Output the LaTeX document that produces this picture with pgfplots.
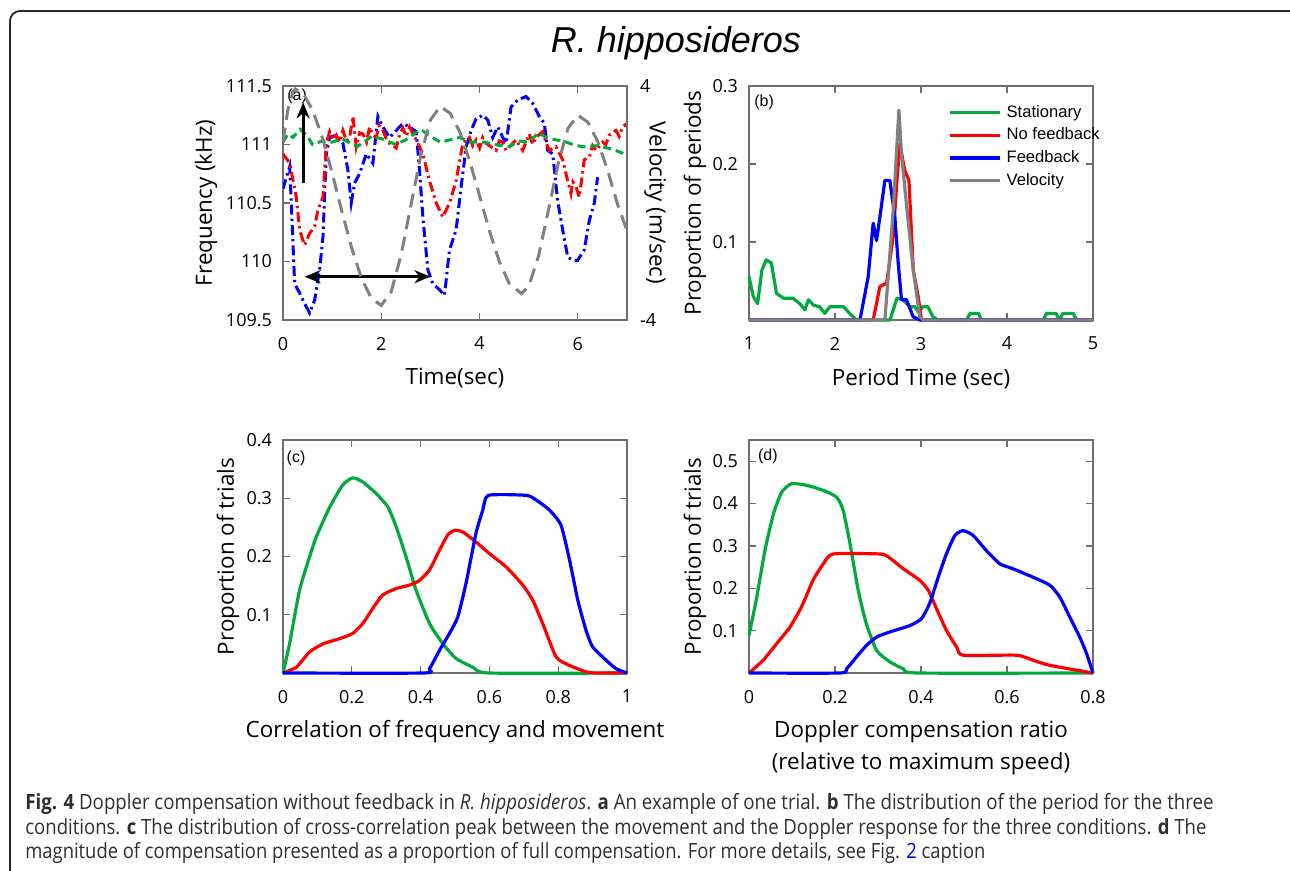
\documentclass[border=0pt]{standalone}
\usepackage{fontspec}
\setmainfont{Open Sans}
\newfontfamily\titlefont{Liberation Sans}
\usepackage{graphicx}
\usepackage{pgfplots}
\pgfplotsset{compat=1.18}
\usetikzlibrary{arrows.meta}
\definecolor{mgreen}{RGB}{0,170,60}
\definecolor{mred}{RGB}{255,0,0}
\definecolor{mblue}{RGB}{0,0,255}
\definecolor{mgray}{RGB}{128,128,128}
\definecolor{axgray}{RGB}{110,110,110}
\pgfplotsset{
  base/.style={
    scale only axis, width=172pt, height=117pt,
    axis line style={axgray, line width=0.6pt},
    tick style={axgray, line width=0.6pt},
    tick align=inside, major tick length=3.5pt,
    /pgf/number format/assume math mode=true,
    ticklabel style={font=\fontsize{9}{10.8}\selectfont},
    xticklabel style={yshift=-5pt},
    label style={font=\fontsize{11.2}{14}\selectfont},
    no markers,
  },
}
\tikzset{plab/.style={font={\titlefont\fontsize{8}{9}\selectfont}, anchor=center}}
\begin{document}
\begin{tikzpicture}
\useasboundingbox (0,0) rectangle (645pt,-435.5pt);
\begin{scope}
\clip (0,0) rectangle (645pt,-435.5pt);
\draw[line width=0.9pt, black!85, rounded corners=5pt] (5pt,-5.5pt) rectangle (652pt,-470pt);
\end{scope}

\node[anchor=base, font={\titlefont\itshape\fontsize{18}{20}\selectfont}] at (338pt,-26.5pt) {R. hipposideros};

% ---------------- panel (a)
\begin{axis}[base, at={(141.5pt,-160pt)}, anchor=south west,
  xmin=0, xmax=7, ymin=109.5, ymax=111.5,
  xtick={0,2,4,6}, ytick={109.5,110,110.5,111,111.5},
  ytick pos=left,
  yticklabel style={xshift=-2pt},
  xlabel={Time(sec)}, ylabel={Frequency (kHz)},
  xlabel style={at={(axis description cs:0.5,-0.25)}, anchor=center},
  ylabel style={at={(axis description cs:-0.224,0.5)}, anchor=center},
]
\addplot[mblue, line width=1.5pt, dash pattern=on 5pt off 2pt on 1.2pt off 2pt] coordinates {
(0,110.62) (0.068,110.72) (0.136,110.81) (0.169,110.50) (0.237,109.81) (0.339,109.73)
(0.440,109.64) (0.542,109.56) (0.644,109.67) (0.745,109.93) (0.813,110.21) (0.881,110.92)
(0.949,111.06) (1.084,111.08) (1.220,111.01) (1.321,110.78) (1.389,110.50) (1.457,110.67)
(1.558,110.75) (1.694,110.92) (1.829,110.84) (1.931,111.24) (2.033,111.15) (2.168,111.06)
(2.304,111.12) (2.439,111.18) (2.575,111.15) (2.710,111.11) (2.778,110.78) (2.846,110.38)
(2.947,109.93) (3.049,109.81) (3.184,109.76) (3.286,109.71) (3.388,110.10) (3.523,110.27)
(3.625,110.64) (3.726,110.98) (3.828,111.12) (3.930,111.22) (4.065,111.25) (4.167,111.21)
(4.268,111.06) (4.370,111.15) (4.472,111.06) (4.539,111.01) (4.641,111.32) (4.776,111.38)
(4.946,111.41) (5.081,111.35) (5.217,111.24) (5.318,111.18) (5.386,110.95) (5.488,110.92)
(5.589,110.52) (5.691,110.27) (5.793,110.04) (5.894,110.01) (5.996,110.01) (6.131,110.10)
(6.233,110.35) (6.335,110.50) (6.402,110.72)
};
\addplot[mred, line width=1.5pt, dash pattern=on 5pt off 2pt on 1.2pt off 2pt] coordinates {
(0,110.92) (0.136,110.84) (0.271,110.55) (0.339,110.27) (0.407,110.18) (0.440,110.14)
(0.542,110.24) (0.644,110.30) (0.711,110.44) (0.813,110.55) (0.881,111.01) (0.949,111.11)
(1.02,111.04) (1.084,111.08) (1.15,111.02) (1.220,111.12) (1.29,111.03) (1.355,111.06) (1.423,111.24) (1.491,110.98)
(1.56,111.10) (1.626,111.09) (1.70,111.02) (1.762,111.15) (1.83,111.08) (1.897,111.06) (1.96,111.16) (2.033,111.12)
(2.10,111.05) (2.168,111.01) (2.304,110.97) (2.37,111.08) (2.439,111.14) (2.51,111.07) (2.575,111.15)
(2.710,111.04) (2.846,110.92) (2.981,110.69) (3.117,110.50) (3.252,110.38) (3.388,110.50)
(3.523,110.69) (3.659,111.01) (3.794,111.06) (3.86,110.99) (3.930,111.04) (4.00,110.97) (4.065,111.06)
(4.13,111.01) (4.201,110.99) (4.336,110.95) (4.40,111.03) (4.472,111.02) (4.54,110.95) (4.607,110.98) (4.743,111.04)
(4.81,110.99) (4.878,110.95) (5.014,111.09) (5.08,111.00) (5.149,111.06) (5.285,111.11) (5.35,111.02) (5.420,110.95)
(5.556,110.98) (5.691,110.87) (5.793,110.69) (5.860,110.58) (5.90,110.68) (5.962,110.64) (6.030,110.55)
(6.131,110.87) (6.233,110.89) (6.30,110.99) (6.369,110.95) (6.504,111.02) (6.57,111.00) (6.640,111.08)
(6.775,111.12) (6.84,111.07) (6.911,111.15) (7.0,111.18)
};
\addplot[mgreen, line width=1.5pt, dash pattern=on 4pt off 2.5pt] coordinates {
(0,111.02) (0.1,111.09) (0.2,111.06) (0.35,111.13) (0.5,111.07) (0.6,111.0) (0.8,111.03)
(1.0,111.02) (1.2,111.05) (1.5,110.98) (1.65,111.02) (1.8,111.07) (2.0,111.05) (2.3,111.0)
(2.5,111.04) (2.8,111.13) (3.0,111.07) (3.2,111.02) (3.4,111.04) (3.6,111.06) (3.8,111.02)
(4.1,111.02) (4.3,111.0) (4.6,110.98) (4.8,111.03) (5.0,111.02) (5.2,111.10) (5.4,111.05)
(5.7,111.03) (5.9,111.0) (6.1,110.98) (6.4,110.99) (6.7,110.96) (6.95,110.92) (7.0,110.93)
};
\draw[-{Stealth[length=8pt,width=6.5pt]}, line width=1.5pt] (axis cs:0.41,110.67) -- (axis cs:0.41,111.36);
\draw[{Stealth[length=8pt,width=6.5pt]}-{Stealth[length=8pt,width=6.5pt]}, line width=1.5pt] (axis cs:0.44,109.87) -- (axis cs:3.0,109.87);
\node[plab] at (axis description cs:0.041,0.957) {(a)};
\end{axis}
\begin{axis}[base, at={(141.5pt,-160pt)}, anchor=south west,
  xmin=0, xmax=7, ymin=-4, ymax=4,
  axis x line=none, axis y line*=right,
  ytick={-4,4}, yticklabel style={xshift=3pt},
  ylabel={Velocity (m/sec)},
  ylabel style={at={(axis description cs:1.083,0.5)}, anchor=center, rotate=180},
]
\addplot[mgray, line width=1.5pt, dash pattern=on 7pt off 4pt] coordinates {
(0,2.1) (0.1,3.2) (0.2,3.8) (0.25,3.9) (0.4,3.77) (0.6,3.19) (0.8,2.24) (1.0,1.03)
(1.2,-0.30) (1.4,-1.55) (1.6,-2.59) (1.8,-3.26) (2.0,-3.5) (2.2,-3.04) (2.4,-1.8)
(2.6,-0.1) (2.8,1.6) (3.0,2.84) (3.2,3.3) (3.4,3.07) (3.6,2.42) (3.8,1.43) (4.0,0.25)
(4.2,-0.95) (4.4,-1.99) (4.6,-2.74) (4.85,-3.1) (5.0,-2.85) (5.2,-1.81) (5.4,-0.26)
(5.6,1.35) (5.8,2.56) (6.0,3.0) (6.2,2.77) (6.4,2.12) (6.6,1.15) (6.8,0) (7.0,-0.95)
};
\end{axis}

% ---------------- panel (b)
\begin{axis}[base, at={(374.5pt,-160pt)}, anchor=south west, clip=false,
  xmin=1, xmax=5, ymin=0, ymax=0.3,
  xtick={1,2,3,4,5}, ytick={0.1,0.2,0.3},
  yticklabel style={xshift=-2pt},
  xlabel={Period Time (sec)}, ylabel={Proportion of periods},
  xlabel style={at={(axis description cs:0.5,-0.25)}, anchor=center},
  ylabel style={at={(axis description cs:-0.157,0.5)}, anchor=center},
  legend style={at={(axis description cs:0.5785,0.924)}, anchor=north west, draw=none, fill=none,
    font={\titlefont\fontsize{8.3}{10}\selectfont}, row sep=3.1pt, inner sep=0pt,
    nodes={inner sep=0pt, text height=6.5pt, text depth=1.8pt}},
  legend cell align=left,
  legend image code/.code={\draw[#1] (0pt,0pt) -- (25pt,0pt); \path (27.5pt,0pt);},
]
\addplot[mgreen, line width=1.6pt, line join=round] coordinates {
(1.0,0.0555) (1.05,0.030) (1.10,0.021) (1.15,0.064) (1.20,0.077) (1.26,0.073) (1.32,0.034)
(1.40,0.028) (1.51,0.028) (1.59,0.021) (1.65,0.013) (1.69,0.026) (1.75,0.019) (1.82,0.017)
(1.88,0.0085) (1.94,0.017) (2.10,0.017) (2.17,0.0085) (2.25,0) (2.64,0) (2.72,0.028)
(2.79,0.026) (2.87,0.017) (2.93,0.017) (2.97,0.010) (3.02,0.017) (3.08,0.017) (3.14,0.004) (3.20,0) (3.53,0)
(3.57,0.0085) (3.67,0.0085) (3.70,0) (4.42,0) (4.46,0.0085) (4.57,0.0085) (4.61,0)
(4.65,0.0085) (4.77,0.0085) (4.81,0) (5,0)
};
\addlegendentry{Stationary}
\addplot[mred, line width=1.6pt, line join=round] coordinates {
(1,0) (2.444,0) (2.522,0.043) (2.60,0.047) (2.677,0.107) (2.715,0.171) (2.754,0.226)
(2.81,0.192) (2.86,0.179) (2.91,0.064) (2.967,0.030) (3.006,0) (5,0)
};
\addlegendentry{No feedback}
\addplot[mblue, line width=1.6pt, line join=round] coordinates {
(1,0) (2.29,0) (2.386,0.0555) (2.444,0.124) (2.483,0.102) (2.522,0.132) (2.58,0.179)
(2.638,0.179) (2.696,0.132) (2.735,0.073) (2.773,0.026) (2.83,0.026) (2.91,0.004) (2.986,0) (5,0)
};
\addlegendentry{Feedback}
\addplot[mgray, line width=1.6pt, line join=round] coordinates {
(1,0) (2.58,0) (2.677,0.141) (2.743,0.269) (2.773,0.213) (2.83,0.149) (2.91,0.064)
(2.986,0.004) (3.025,0) (5,0)
};
\addlegendentry{Velocity}
\node[plab] at (axis description cs:0.044,0.932) {(b)};
\end{axis}

% ---------------- panel (c)
\begin{axis}[base, at={(141.5pt,-336.5pt)}, anchor=south west, height=116.5pt, clip=false,
  xmin=0, xmax=1, ymin=0, ymax=0.4,
  xtick={0,0.2,0.4,0.6,0.8,1}, ytick={0.1,0.2,0.3,0.4},
  yticklabel style={xshift=-2pt},
  xlabel={Correlation of frequency and movement}, ylabel={Proportion of trials},
  xlabel style={at={(axis description cs:0.5,-0.251)}, anchor=center},
  ylabel style={at={(axis description cs:-0.16,0.5)}, anchor=center},
]
\addplot[mgreen, line width=1.6pt, smooth, tension=0.35] coordinates {
(0,0) (0.019,0.050) (0.048,0.142) (0.077,0.199) (0.097,0.234) (0.136,0.285) (0.174,0.323)
(0.203,0.335) (0.232,0.328) (0.271,0.308) (0.305,0.285) (0.329,0.251) (0.358,0.199)
(0.387,0.142) (0.426,0.085) (0.465,0.050) (0.503,0.025) (0.552,0.010) (0.60,0) (1,0)
};
\addplot[mred, line width=1.6pt, smooth, tension=0.35] coordinates {
(0,0) (0.039,0.010) (0.077,0.036) (0.116,0.050) (0.165,0.059) (0.203,0.068) (0.232,0.085)
(0.261,0.111) (0.29,0.134) (0.329,0.145) (0.368,0.151) (0.397,0.159) (0.426,0.177)
(0.455,0.211) (0.479,0.237) (0.499,0.245) (0.523,0.242) (0.561,0.225) (0.60,0.205)
(0.649,0.182) (0.697,0.151) (0.726,0.125) (0.755,0.085) (0.794,0.0275) (0.833,0.013)
(0.881,0.002) (0.91,0) (1,0)
};
\addplot[mblue, line width=1.6pt, smooth, tension=0.35] coordinates {
(0,0) (0.407,0) (0.426,0.0075) (0.455,0.039) (0.484,0.068) (0.508,0.096) (0.532,0.154)
(0.561,0.240) (0.581,0.28) (0.597,0.305) (0.707,0.305) (0.736,0.297) (0.774,0.28)
(0.808,0.254) (0.833,0.194) (0.857,0.125) (0.881,0.073) (0.90,0.045) (0.939,0.022)
(0.968,0.0075) (1,0)
};
\node[plab] at (axis description cs:0.038,0.923) {(c)};
\end{axis}

% ---------------- panel (d)
\begin{axis}[base, at={(374.5pt,-336.5pt)}, anchor=south west, height=116.5pt, clip=false,
  xmin=0, xmax=0.8, ymin=0, ymax=0.55,
  xtick={0,0.2,0.4,0.6,0.8}, ytick={0.1,0.2,0.3,0.4,0.5},
  yticklabel style={xshift=-2pt},
  xlabel={Doppler compensation ratio\\(relative to maximum speed)}, ylabel={Proportion of trials},
  xlabel style={at={(axis description cs:0.5,-0.32)}, anchor=center, align=center, font=\fontsize{11.2}{16}\selectfont},
  ylabel style={at={(axis description cs:-0.157,0.5)}, anchor=center},
]
\addplot[mgreen, line width=1.6pt, smooth, tension=0.35] coordinates {
(0,0.089) (0.018,0.179) (0.037,0.289) (0.057,0.376) (0.076,0.427) (0.099,0.447) (0.134,0.443)
(0.173,0.431) (0.204,0.415) (0.219,0.384) (0.235,0.305) (0.254,0.195) (0.273,0.116)
(0.297,0.053) (0.328,0.026) (0.359,0.010) (0.393,0) (0.8,0)
};
\addplot[mred, line width=1.6pt, smooth, tension=0.35] coordinates {
(0,0) (0.033,0.030) (0.064,0.069) (0.095,0.108) (0.122,0.156) (0.149,0.219) (0.173,0.258)
(0.196,0.281) (0.304,0.281) (0.324,0.274) (0.359,0.246) (0.397,0.219) (0.417,0.195)
(0.436,0.152) (0.459,0.101) (0.483,0.061) (0.498,0.042) (0.622,0.042) (0.661,0.030)
(0.70,0.018) (0.8,0)
};
\addplot[mblue, line width=1.6pt, smooth, tension=0.35] coordinates {
(0,0) (0.211,0) (0.227,0.010) (0.25,0.038) (0.273,0.065) (0.297,0.085) (0.328,0.097)
(0.374,0.112) (0.401,0.128) (0.42,0.164) (0.44,0.226) (0.459,0.281) (0.479,0.325)
(0.498,0.336) (0.521,0.325) (0.552,0.289) (0.583,0.258) (0.614,0.246) (0.661,0.226)
(0.70,0.207) (0.723,0.179) (0.746,0.132) (0.769,0.085) (0.785,0.046) (0.8,0)
};
\node[plab] at (axis description cs:0.055,0.931) {(d)};
\end{axis}

% ---------------- caption
\begin{scope}[every node/.style={anchor=base west, inner sep=0pt, text=black!82, font=\fontsize{10.5}{12}\selectfont}]
\node at (12.5pt,-404.5pt) {\resizebox{594pt}{\height}{\textbf{Fig. 4} Doppler compensation without feedback in \textit{R. hipposideros}. \textbf{a} An example of one trial. \textbf{b} The distribution of the period for the three}};
\node at (12.5pt,-417pt) {\resizebox{590.5pt}{\height}{conditions. \textbf{c} The distribution of cross-correlation peak between the movement and the Doppler response for the three conditions. \textbf{d} The}};
\node at (12.5pt,-429.3pt) {\resizebox{480pt}{\height}{magnitude of compensation presented as a proportion of full compensation. For more details, see Fig. {\color{blue}2} caption}};
\end{scope}
\end{tikzpicture}
\end{document}
